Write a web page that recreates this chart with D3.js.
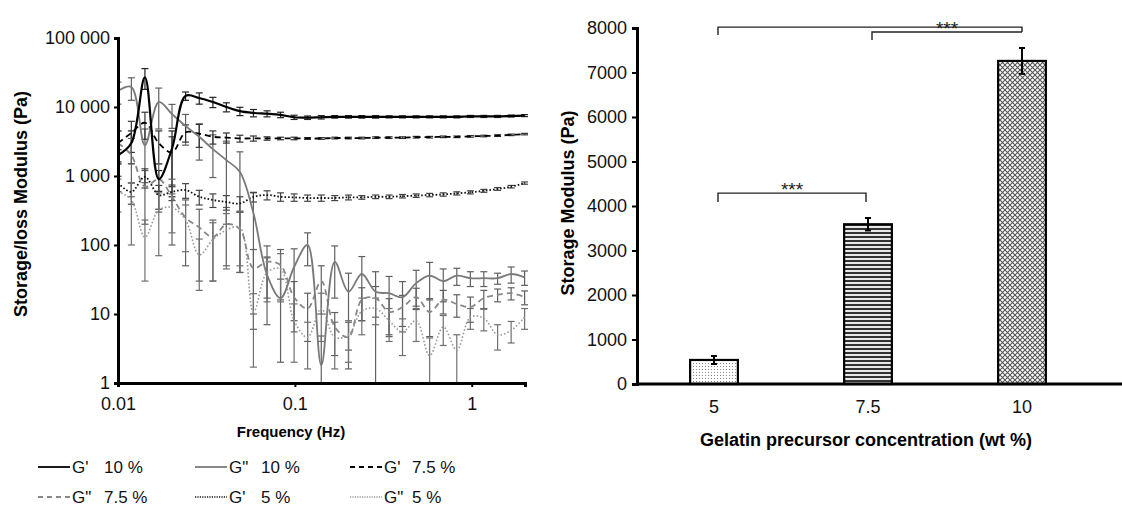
<!DOCTYPE html>
<html>
<head>
<meta charset="utf-8">
<script src="https://cdn.jsdelivr.net/npm/d3@7"></script>
<style>
  body { margin: 0; background: #fff; }
  svg { font-family: "Liberation Sans", Arial, sans-serif; }
</style>
</head>
<body>
<div class="svg-container"></div>
<script>
var width = 1122;
var height = 506;

// frequency sweep (Hz)
var freq = [0.01, 0.0119, 0.0142, 0.0170, 0.0202, 0.0241, 0.0288, 0.0344, 0.0410, 0.0489,
            0.0583, 0.0696, 0.0830, 0.0990, 0.118, 0.141, 0.168, 0.201, 0.239, 0.286,
            0.341, 0.406, 0.485, 0.578, 0.690, 0.823, 0.982, 1.17, 1.40, 1.67, 1.99];

var g10p     = [2000, 3000, 27000, 900, 2500, 14500, 13500, 11800, 10000, 8700, 8200, 8000, 7700, 7100, 7000, 7100,
                7200, 7200, 7200, 7200, 7200, 7200, 7200, 7200, 7200, 7200, 7300, 7300, 7300, 7400, 7500];
var g10pErr  = [400, 1500, 9000, 300, 2000, 2000, 2500, 2000, 1500, 1200, 1000, 800, 700, 500, 400, 400,
                300, 300, 300, 300, 250, 250, 250, 250, 250, 250, 250, 250, 250, 250, 250];
var g10pp    = [17000, 19500, 2800, 11800, 7900, 5300, 3700, 2450, 1700, 1140, 290, 37, 17, 48, 100, 1.8,
                57, 21, 38, 21, 20, 17.5, 28, 36, 30, 36, 33, 33, 33, 38, 34];
var g10ppErr = [6000, 7000, 2000, 7000, 3000, 2500, 2000, 1500, 1500, 1100, 280, 30, 15, 40, 50, 3,
                40, 18, 30, 20, 15, 12, 15, 20, 15, 10, 8, 8, 6, 10, 8];
var g75p     = [3000, 4200, 5900, 3000, 2200, 4300, 4100, 3700, 3600, 3500, 3500, 3500, 3500, 3500, 3500, 3500,
                3550, 3550, 3550, 3600, 3600, 3600, 3650, 3650, 3700, 3700, 3750, 3800, 3850, 3950, 4050];
var g75pErr  = [1500, 2000, 2500, 1500, 1500, 1200, 1500, 800, 600, 400, 300, 200, 150, 150, 100, 100,
                100, 100, 100, 100, 100, 100, 100, 100, 100, 100, 100, 100, 100, 100, 100];
var g75pp    = [3000, 2000, 700, 900, 500, 250, 180, 130, 200, 170, 46, 57, 51, 17.5, 12, 30,
                6.5, 4.6, 16, 17, 10.7, 12.6, 17.6, 10.7, 16, 14, 12.6, 17, 19, 20, 17.6];
var g75ppErr = [1500, 1500, 500, 600, 400, 200, 150, 100, 150, 130, 40, 40, 35, 12, 8, 20,
                4, 3, 8, 8, 6, 6, 6, 6, 6, 5, 5, 5, 4, 4, 4];
var g5p      = [790, 590, 970, 530, 590, 625, 500, 450, 420, 400, 500, 530, 500, 490, 480, 480,
                480, 490, 490, 500, 500, 510, 520, 530, 540, 560, 580, 610, 650, 700, 790];
var g5pErr   = [200, 200, 300, 200, 150, 150, 120, 100, 100, 100, 80, 80, 70, 60, 50, 50,
                40, 40, 30, 30, 30, 30, 30, 30, 30, 30, 30, 30, 30, 30, 30];
var g5pp     = [600, 450, 130, 320, 350, 230, 72, 120, 165, 180, 10.7, 40, 45, 8, 4.6, 12,
                4.6, 5, 11, 12, 8, 5.5, 8, 2.5, 6.5, 3, 9, 8.7, 5, 5.8, 9];
var g5ppErr  = [300, 350, 100, 250, 200, 150, 50, 90, 120, 130, 9, 25, 30, 6, 3, 8,
                3, 3, 6, 5, 4, 3, 4, 2, 3, 2, 3, 3, 2, 2, 3];

var seriesNames = ["G'", "G\"", "G'", "G\"", "G'", "G\""];
var seriesConc = ["10 %", "10 %", "7.5 %", "7.5 %", "5 %", "5 %"];

var yLogTicks = [1, 10, 100, 1000, 10000, 100000];
var xLogTicks = [0.01, 0.1, 1];

// bar chart
var concentrations = ["5", "7.5", "10"];
var storageModulus = [540, 3590, 7260];
var storageErr = [90, 140, 290];
var yLinTicks = [0, 1000, 2000, 3000, 4000, 5000, 6000, 7000, 8000];
var brackets = [
  { from: "5", to: "10", y: 8020, legFrom: 7840, legTo: 7910, stars: false },
  { from: "7.5", to: "10", y: 7910, legFrom: 7730, legTo: 7910, stars: true },
  { from: "5", to: "7.5", y: 4290, legFrom: 4090, legTo: 4090, stars: true }
];

var svg = d3.select(".svg-container").append("svg")
            .attr("width", width)
            .attr("height", height);

var defs = svg.append("defs");

// ---------- patterns for bars ----------
var pDots = defs.append("pattern").attr("id", "pat-dots")
                .attr("patternUnits", "userSpaceOnUse").attr("width", 3).attr("height", 3);
pDots.append("rect").attr("width", 3).attr("height", 3).attr("fill", "#fff");
pDots.append("rect").attr("width", 1).attr("height", 1).attr("fill", "#8a8a8a");

var pLines = defs.append("pattern").attr("id", "pat-lines")
                 .attr("patternUnits", "userSpaceOnUse").attr("width", 4).attr("height", 4);
pLines.append("rect").attr("width", 4).attr("height", 4).attr("fill", "#e8e8e8");
pLines.append("rect").attr("width", 4).attr("height", 2).attr("fill", "#333");

var pCross = defs.append("pattern").attr("id", "pat-cross")
                 .attr("patternUnits", "userSpaceOnUse").attr("width", 5).attr("height", 5);
pCross.append("rect").attr("width", 5).attr("height", 5).attr("fill", "#fff");
pCross.append("path").attr("d", "M0,0L5,5M5,0L0,5").attr("stroke", "#555").attr("stroke-width", 1.1);

var barFills = ["url(#pat-dots)", "url(#pat-lines)", "url(#pat-cross)"];

// ---------- left chart: frequency sweep ----------
var x = d3.scaleLog().domain([0.01, 2]).range([118, 525]);
var y = d3.scaleLog().domain([1, 100000]).range([383, 38]);

defs.append("clipPath").attr("id", "plot-clip")
    .append("rect").attr("x", 118).attr("y", 30).attr("width", 410).attr("height", 353);

var series = [
  { v: g10p,  e: g10pErr,  color: "#000",    width: 2.2, dash: null,    errColor: "#222" },
  { v: g10pp, e: g10ppErr, color: "#7a7a7a", width: 1.8, dash: null,    errColor: "#606060" },
  { v: g75p,  e: g75pErr,  color: "#000",    width: 1.8, dash: "6,4",   errColor: "#333" },
  { v: g75pp, e: g75ppErr, color: "#888",    width: 1.8, dash: "6,4",   errColor: "#606060" },
  { v: g5p,   e: g5pErr,   color: "#111",    width: 1.8, dash: "1.6,2", errColor: "#444" },
  { v: g5pp,  e: g5ppErr,  color: "#9a9a9a", width: 1.6, dash: "1.6,2", errColor: "#707070" }
];

var plot = svg.append("g").attr("clip-path", "url(#plot-clip)");

var line = d3.line()
             .x(function(d) { return x(d.f); })
             .y(function(d) { return y(d.v); })
             .curve(d3.curveCatmullRom.alpha(0.5));

// error bars first, lines on top
series.forEach(function(s) {
  var pts = freq.map(function(f, i) { return { f: f, v: s.v[i], e: s.e[i] }; });
  var eb = plot.append("g").attr("stroke", s.errColor).attr("stroke-width", 1.2);
  eb.selectAll("line.v").data(pts).enter().append("line")
    .attr("x1", function(d) { return x(d.f); })
    .attr("x2", function(d) { return x(d.f); })
    .attr("y1", function(d) { return y(d.v + d.e); })
    .attr("y2", function(d) { return y(Math.max(d.v - d.e, 1)); });
  eb.selectAll("line.t").data(pts).enter().append("line")
    .attr("x1", function(d) { return x(d.f) - 3.5; })
    .attr("x2", function(d) { return x(d.f) + 3.5; })
    .attr("y1", function(d) { return y(d.v + d.e); })
    .attr("y2", function(d) { return y(d.v + d.e); });
  eb.selectAll("line.b").data(pts.filter(function(d) { return d.v - d.e > 1; })).enter().append("line")
    .attr("x1", function(d) { return x(d.f) - 3.5; })
    .attr("x2", function(d) { return x(d.f) + 3.5; })
    .attr("y1", function(d) { return y(d.v - d.e); })
    .attr("y2", function(d) { return y(d.v - d.e); });
});

series.slice().reverse().forEach(function(s) {
  var pts = freq.map(function(f, i) { return { f: f, v: s.v[i] }; });
  plot.append("path").datum(pts)
      .attr("d", line)
      .attr("fill", "none")
      .attr("stroke", s.color)
      .attr("stroke-width", s.width)
      .attr("stroke-dasharray", s.dash);
});

var spaceFmt = function(d) { return d3.format(",")(d).replace(/,/g, " "); };

var yAxisL = svg.append("g").attr("transform", "translate(118,0)")
                .call(d3.axisLeft(y).tickValues(yLogTicks).tickFormat(spaceFmt).tickSize(4).tickPadding(4));
var xAxisL = svg.append("g").attr("transform", "translate(0,383)")
                .call(d3.axisBottom(x).tickValues(xLogTicks).tickFormat(function(d) { return String(d); })
                .tickSize(4).tickPadding(10));

[yAxisL, xAxisL].forEach(function(a) {
  a.select(".domain").attr("stroke", "#000").attr("stroke-width", 3);
  a.selectAll(".tick line").attr("stroke", "#000").attr("stroke-width", 2);
  a.selectAll(".tick text").attr("fill", "#111").style("font-size", "18px");
});

svg.append("text")
   .attr("transform", "translate(27,204) rotate(-90)")
   .attr("text-anchor", "middle")
   .style("font-size", "18px").style("font-weight", "bold")
   .text("Storage/loss Modulus (Pa)");

svg.append("text")
   .attr("x", 291).attr("y", 437)
   .attr("text-anchor", "middle")
   .style("font-size", "15px").style("font-weight", "bold")
   .text("Frequency (Hz)");

// legend
var legendCols = [38, 195, 350];
var legendRows = [467, 497];
var legend = svg.append("g");
series.forEach(function(s, i) {
  var lx = legendCols[i % 3];
  var ly = legendRows[Math.floor(i / 3)];
  legend.append("line")
        .attr("x1", lx).attr("x2", lx + 32).attr("y1", ly).attr("y2", ly)
        .attr("stroke", s.color).attr("stroke-width", s.dash && s.dash.indexOf("1.6") === 0 ? 1.4 : 1.8)
        .attr("stroke-dasharray", s.dash && s.dash.indexOf("6") === 0 ? "5,4" : (s.dash ? "1.2,1.2" : null));
  legend.append("text").attr("x", lx + 34).attr("y", ly + 6)
        .style("font-size", "17px").attr("fill", "#111").text(seriesNames[i]);
  legend.append("text").attr("x", lx + (i === 2 || i === 5 ? 62 : 66)).attr("y", ly + 6)
        .style("font-size", "17px").attr("fill", "#111").text(seriesConc[i]);
});

// ---------- right chart: storage modulus bars ----------
var xb = d3.scaleBand().domain(concentrations).range([637, 1099]).paddingInner(0.69).paddingOuter(0.345);
var yb = d3.scaleLinear().domain([0, 8000]).range([384, 28]);

var barG = svg.append("g");
barG.selectAll("rect").data(concentrations).enter().append("rect")
    .attr("x", function(d) { return xb(d); })
    .attr("width", xb.bandwidth())
    .attr("y", function(d, i) { return yb(storageModulus[i]); })
    .attr("height", function(d, i) { return yb(0) - yb(storageModulus[i]); })
    .attr("fill", function(d, i) { return barFills[i]; })
    .attr("stroke", "#000").attr("stroke-width", 2.2);

var ebG = svg.append("g").attr("stroke", "#000").attr("stroke-width", 2);
concentrations.forEach(function(c, i) {
  var cx = xb(c) + xb.bandwidth() / 2;
  var hi = yb(storageModulus[i] + storageErr[i]);
  var lo = yb(storageModulus[i] - storageErr[i]);
  ebG.append("line").attr("x1", cx).attr("x2", cx).attr("y1", hi).attr("y2", lo);
  ebG.append("line").attr("x1", cx - 3).attr("x2", cx + 3).attr("y1", hi).attr("y2", hi);
  ebG.append("line").attr("x1", cx - 3).attr("x2", cx + 3).attr("y1", lo).attr("y2", lo);
});

var yAxisR = svg.append("g").attr("transform", "translate(637,0)")
                .call(d3.axisLeft(yb).tickValues(yLinTicks).tickFormat(d3.format("d")).tickSize(5).tickPadding(5));
var xAxisR = svg.append("g").attr("transform", "translate(0,384)")
                .call(d3.axisBottom(xb).tickSize(0).tickPadding(16));
xAxisR.select(".domain").attr("d", "M637,0H1122");

[yAxisR, xAxisR].forEach(function(a) {
  a.select(".domain").attr("stroke", "#000").attr("stroke-width", 3);
  a.selectAll(".tick line").attr("stroke", "#000").attr("stroke-width", 2);
  a.selectAll(".tick text").attr("fill", "#111").style("font-size", "18px");
});

svg.append("text")
   .attr("transform", "translate(574,203) rotate(-90)")
   .attr("text-anchor", "middle")
   .style("font-size", "18px").style("font-weight", "bold")
   .text("Storage Modulus (Pa)");

svg.append("text")
   .attr("x", 866).attr("y", 446)
   .attr("text-anchor", "middle")
   .style("font-size", "18px").style("font-weight", "bold")
   .text("Gelatin precursor concentration (wt %)");

// significance brackets
var brG = svg.append("g").attr("fill", "none").attr("stroke", "#222").attr("stroke-width", 1.4);
brackets.forEach(function(b) {
  var x1 = xb(b.from) + xb.bandwidth() / 2 + 4;
  var x2 = xb(b.to) + xb.bandwidth() / 2 - (b.to === "7.5" ? 2 : 0);
  brG.append("path")
     .attr("d", "M" + x1 + "," + yb(b.legFrom) + "V" + yb(b.y) + "H" + x2 + "V" + yb(b.legTo));
  if (b.stars) {
    svg.append("text")
       .attr("x", (x1 + x2) / 2).attr("y", yb(b.y) + 3)
       .attr("text-anchor", "middle")
       .style("font-size", "19px").attr("fill", "#222")
       .text("***");
  }
});
</script>
</body>
</html>
